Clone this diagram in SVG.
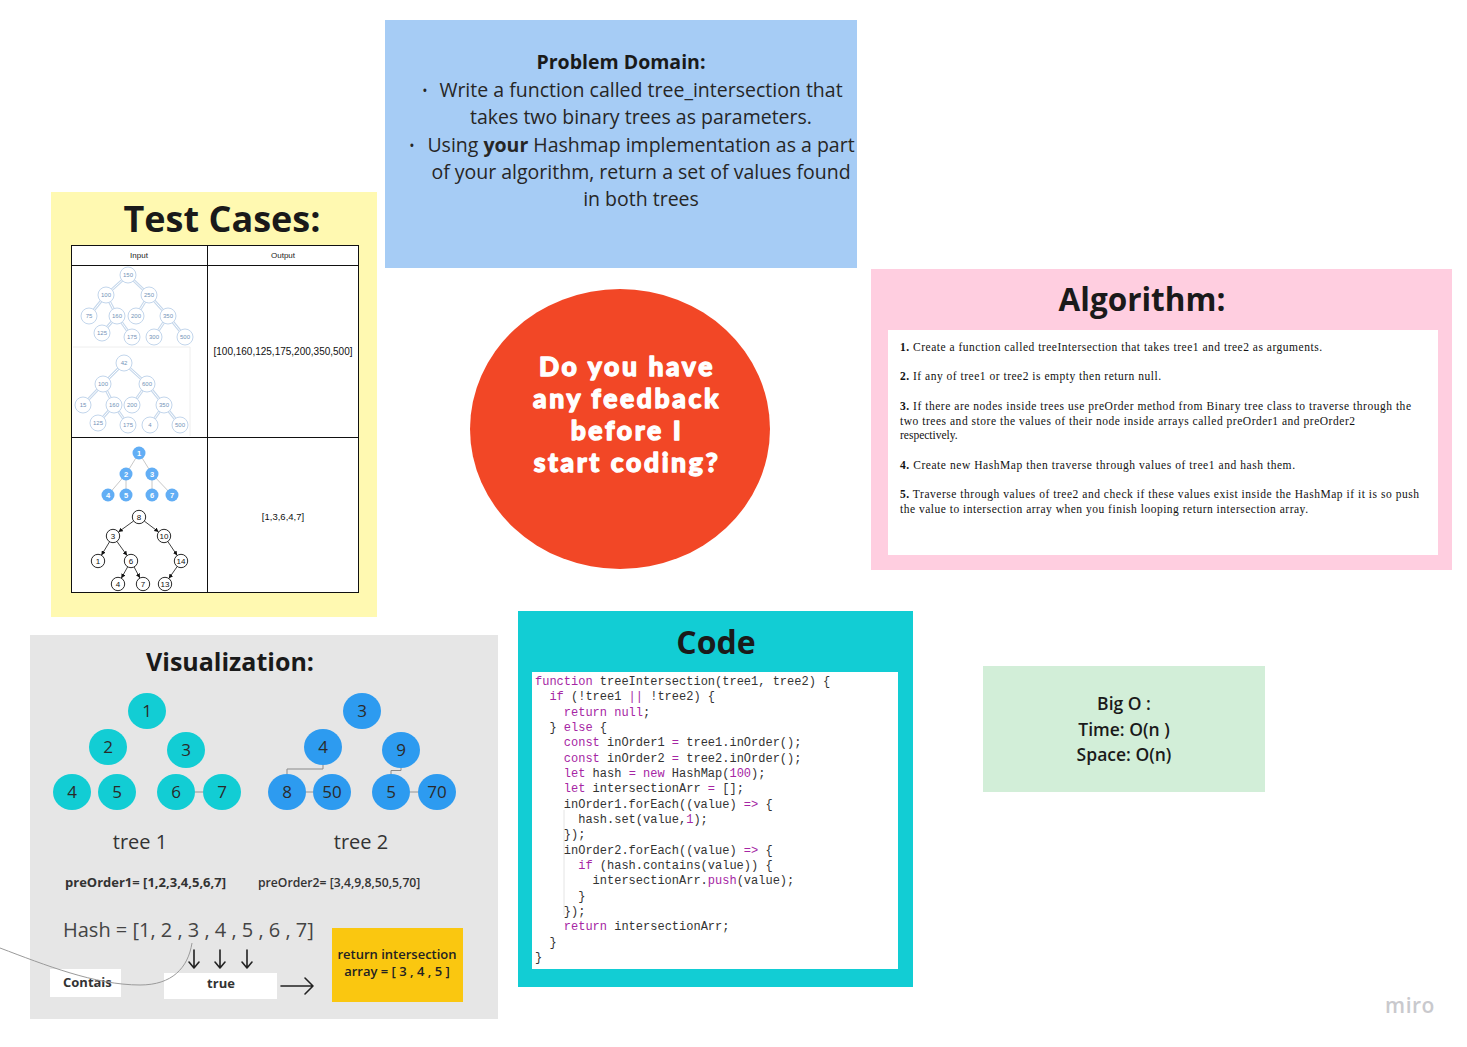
<svg xmlns="http://www.w3.org/2000/svg" width="1467" height="1047" viewBox="0 0 1467 1047">
<defs>
<style>
.os{font-family:"Open Sans","Noto Sans","DejaVu Sans",sans-serif}
.ttl{font-family:"Open Sans","Noto Sans",sans-serif;font-weight:700;fill:#1a1a1a;text-anchor:middle}
.pd{font-family:"Open Sans","Noto Sans",sans-serif;font-size:19.5px;fill:#262626;text-anchor:middle}
.alg{font-family:"Liberation Serif","Times New Roman",serif;font-size:11.5px;fill:#111}
.code{font-family:"Liberation Mono","DejaVu Sans Mono",monospace;font-size:12px;fill:#333;white-space:pre}
.k{fill:#a626a4}
.n1{fill:#12cdd4}
.n2{fill:#2d9bf0}
.nl{font-family:"Open Sans","Noto Sans",sans-serif;font-size:17px;fill:#2a2a2a;text-anchor:middle}
.tc{fill:#fff;stroke:#c3d6ec;stroke-width:1}
.tct{font-family:"Liberation Sans",Arial,sans-serif;font-size:6px;fill:#7393b8;text-anchor:middle}
.e1{stroke:#c6d8ec;stroke-width:3;fill:none}
.e1i{stroke:#fff;stroke-width:1;fill:none}
.bn{fill:#62aef5}
.bnt{font-family:"Liberation Sans",Arial,sans-serif;font-size:7.5px;font-weight:700;fill:#fff;text-anchor:middle}
.kn{fill:#fff;stroke:#111;stroke-width:0.9}
.knt{font-family:"Liberation Sans",Arial,sans-serif;font-size:8px;fill:#111;text-anchor:middle}
.ka{stroke:#111;stroke-width:0.8;fill:none;marker-end:url(#ah)}
.arr{stroke:#222;stroke-width:1.6;fill:none;stroke-linecap:round;stroke-linejoin:round}
</style>
<marker id="ah" viewBox="0 0 6 6" refX="6" refY="3" markerWidth="4.5" markerHeight="4.5" markerUnits="userSpaceOnUse" orient="auto"><path d="M0,0 L6,3 L0,6 z" fill="#111"/></marker>
</defs>
<rect width="1467" height="1047" fill="#fff"/>

<!-- Test Cases -->
<g id="test-cases">
<rect x="51" y="192" width="326" height="425" fill="#fff9b1"/>
<text class="ttl" x="222" y="232" font-size="36">Test Cases:</text>
<rect x="71.5" y="245.5" width="287" height="347" fill="#fff" stroke="#111" stroke-width="1"/>
<line x1="71.5" y1="265.5" x2="358.5" y2="265.5" stroke="#111"/>
<line x1="207.5" y1="245.5" x2="207.5" y2="592.5" stroke="#111"/>
<line x1="71.5" y1="437.5" x2="358.5" y2="437.5" stroke="#111"/>
<text x="139" y="258" font-family="Liberation Sans,Arial,sans-serif" font-size="8" fill="#222" text-anchor="middle">Input</text>
<text x="283" y="258" font-family="Liberation Sans,Arial,sans-serif" font-size="8" fill="#222" text-anchor="middle">Output</text>
<text x="283" y="355" font-family="Liberation Sans,Arial,sans-serif" font-size="10" fill="#111" text-anchor="middle">[100,160,125,175,200,350,500]</text>
<text x="283" y="520" font-family="Liberation Sans,Arial,sans-serif" font-size="9.5" fill="#111" text-anchor="middle">[1,3,6,4,7]</text>
<line x1="73" y1="347" x2="190" y2="347" stroke="#eee" stroke-width="1"/>
<line x1="190" y1="347" x2="190" y2="436" stroke="#eee" stroke-width="1"/>
<g id="tc-tree-a">
<path class="e1" d="M128,275 L106,295 M128,275 L149,295 M106,295 L89,316 M106,295 L117,316 M149,295 L136,316 M149,295 L168,316 M117,316 L102,333 M117,316 L132,337 M168,316 L154,337 M168,316 L185,337"/>
<path class="e1i" d="M128,275 L106,295 M128,275 L149,295 M106,295 L89,316 M106,295 L117,316 M149,295 L136,316 M149,295 L168,316 M117,316 L102,333 M117,316 L132,337 M168,316 L154,337 M168,316 L185,337"/>
<circle class="tc" cx="128" cy="275" r="8"/><text class="tct" x="128" y="277">150</text>
<circle class="tc" cx="106" cy="295" r="8"/><text class="tct" x="106" y="297">100</text>
<circle class="tc" cx="149" cy="295" r="8"/><text class="tct" x="149" y="297">250</text>
<circle class="tc" cx="89" cy="316" r="8"/><text class="tct" x="89" y="318">75</text>
<circle class="tc" cx="117" cy="316" r="8"/><text class="tct" x="117" y="318">160</text>
<circle class="tc" cx="136" cy="316" r="8"/><text class="tct" x="136" y="318">200</text>
<circle class="tc" cx="168" cy="316" r="8"/><text class="tct" x="168" y="318">350</text>
<circle class="tc" cx="102" cy="333" r="8"/><text class="tct" x="102" y="335">125</text>
<circle class="tc" cx="132" cy="337" r="8"/><text class="tct" x="132" y="339">175</text>
<circle class="tc" cx="154" cy="337" r="8"/><text class="tct" x="154" y="339">300</text>
<circle class="tc" cx="185" cy="337" r="8"/><text class="tct" x="185" y="339">500</text>
</g>
<g id="tc-tree-b">
<path class="e1" d="M124,363 L103,384 M124,363 L147,384 M103,384 L83,405 M103,384 L114,405 M147,384 L132,405 M147,384 L164,405 M114,405 L98,423 M114,405 L128,425 M164,405 L150,425 M164,405 L180,425"/>
<path class="e1i" d="M124,363 L103,384 M124,363 L147,384 M103,384 L83,405 M103,384 L114,405 M147,384 L132,405 M147,384 L164,405 M114,405 L98,423 M114,405 L128,425 M164,405 L150,425 M164,405 L180,425"/>
<circle class="tc" cx="124" cy="363" r="8"/><text class="tct" x="124" y="365">42</text>
<circle class="tc" cx="103" cy="384" r="8"/><text class="tct" x="103" y="386">100</text>
<circle class="tc" cx="147" cy="384" r="8"/><text class="tct" x="147" y="386">600</text>
<circle class="tc" cx="83" cy="405" r="8"/><text class="tct" x="83" y="407">15</text>
<circle class="tc" cx="114" cy="405" r="8"/><text class="tct" x="114" y="407">160</text>
<circle class="tc" cx="132" cy="405" r="8"/><text class="tct" x="132" y="407">200</text>
<circle class="tc" cx="164" cy="405" r="8"/><text class="tct" x="164" y="407">350</text>
<circle class="tc" cx="98" cy="423" r="8"/><text class="tct" x="98" y="425">125</text>
<circle class="tc" cx="128" cy="425" r="8"/><text class="tct" x="128" y="427">175</text>
<circle class="tc" cx="150" cy="425" r="8"/><text class="tct" x="150" y="427">4</text>
<circle class="tc" cx="180" cy="425" r="8"/><text class="tct" x="180" y="427">500</text>
</g>
<g id="tc-tree-c">
<path d="M139,453 L126,474 M139,453 L152,474 M126,474 L108,495 M126,474 L126,495 M152,474 L152,495 M152,474 L172,495" stroke="#c8c8c8" stroke-width="1" fill="none"/>
<circle class="bn" cx="139" cy="453" r="6.5"/><text class="bnt" x="139" y="455.7">1</text>
<circle class="bn" cx="126" cy="474" r="6.5"/><text class="bnt" x="126" y="476.7">2</text>
<circle class="bn" cx="152" cy="474" r="6.5"/><text class="bnt" x="152" y="476.7">3</text>
<circle class="bn" cx="108" cy="495" r="6.5"/><text class="bnt" x="108" y="497.7">4</text>
<circle class="bn" cx="126" cy="495" r="6.5"/><text class="bnt" x="126" y="497.7">5</text>
<circle class="bn" cx="152" cy="495" r="6.5"/><text class="bnt" x="152" y="497.7">6</text>
<circle class="bn" cx="172" cy="495" r="6.5"/><text class="bnt" x="172" y="497.7">7</text>
</g>
<g id="tc-tree-d">
<line class="ka" x1="133.6" y1="521" x2="118.4" y2="532"/>
<line class="ka" x1="144.3" y1="521.1" x2="158.7" y2="532"/>
<line class="ka" x1="109.6" y1="541.7" x2="101.4" y2="555.3"/>
<line class="ka" x1="116.9" y1="541.4" x2="127.1" y2="555.6"/>
<line class="ka" x1="167.8" y1="541.5" x2="177.2" y2="555.5"/>
<line class="ka" x1="127.7" y1="566.8" x2="121.3" y2="578.2"/>
<line class="ka" x1="134.1" y1="567" x2="139.9" y2="578"/>
<line class="ka" x1="177.2" y1="566.5" x2="168.8" y2="578.5"/>
<circle class="kn" cx="139" cy="517" r="6.7"/><text class="knt" x="139" y="520">8</text>
<circle class="kn" cx="113" cy="536" r="6.7"/><text class="knt" x="113" y="539">3</text>
<circle class="kn" cx="164" cy="536" r="6.7"/><text class="knt" x="164" y="539">10</text>
<circle class="kn" cx="98" cy="561" r="6.7"/><text class="knt" x="98" y="564">1</text>
<circle class="kn" cx="131" cy="561" r="6.7"/><text class="knt" x="131" y="564">6</text>
<circle class="kn" cx="181" cy="561" r="6.7"/><text class="knt" x="181" y="564">14</text>
<circle class="kn" cx="118" cy="584" r="6.7"/><text class="knt" x="118" y="587">4</text>
<circle class="kn" cx="143" cy="584" r="6.7"/><text class="knt" x="143" y="587">7</text>
<circle class="kn" cx="165" cy="584" r="6.7"/><text class="knt" x="165" y="587">13</text>
</g>
</g>

<!-- Problem Domain -->
<g id="problem-domain">
<rect x="385" y="20" width="472" height="248" fill="#a6ccf5"/>
<text class="ttl" x="621" y="69" font-size="19.5">Problem Domain:</text>
<text class="os" x="425" y="96" font-size="14" fill="#262626" text-anchor="middle">•</text>
<text class="pd" x="641" y="97">Write a function called tree_intersection that</text>
<text class="pd" x="641" y="124">takes two binary trees as parameters.</text>
<text class="os" x="412" y="151" font-size="14" fill="#262626" text-anchor="middle">•</text>
<text class="pd" x="641" y="152">Using <tspan font-weight="700">your</tspan> Hashmap implementation as a part</text>
<text class="pd" x="641" y="179">of your algorithm, return a set of values found</text>
<text class="pd" x="641" y="206">in both trees</text>
</g>

<!-- Feedback -->
<g id="feedback">
<ellipse cx="620" cy="429" rx="150" ry="140" fill="#f24726"/>
<g font-family="Lato,'Open Sans',sans-serif" font-weight="900" font-size="26.5" fill="#fff" stroke="#fff" stroke-width="1.3" stroke-linejoin="round" text-anchor="middle" letter-spacing="2.6">
<text x="627" y="376">Do you have</text>
<text x="627" y="408">any feedback</text>
<text x="627" y="440">before I</text>
<text x="627" y="472">start coding?</text>
</g>
</g>

<!-- Algorithm -->
<g id="algorithm">
<rect x="871" y="269" width="581" height="301" fill="#ffcee0"/>
<text class="ttl" x="1142" y="311" font-size="31.5">Algorithm:</text>
<rect x="888" y="330" width="550" height="225" fill="#fff"/>
<text class="alg" x="900" y="351" textLength="422" lengthAdjust="spacing"><tspan font-weight="700">1.</tspan> Create a function called treeIntersection that takes tree1 and tree2 as arguments.</text>
<text class="alg" x="900" y="380" textLength="261" lengthAdjust="spacing"><tspan font-weight="700">2.</tspan> If any of tree1 or tree2 is empty then return null.</text>
<text class="alg" x="900" y="410" textLength="511" lengthAdjust="spacing"><tspan font-weight="700">3.</tspan> If there are nodes inside trees use preOrder method from Binary tree class to traverse through the</text>
<text class="alg" x="900" y="425" textLength="455" lengthAdjust="spacing">two trees and store the values of their node inside arrays called preOrder1 and preOrder2</text>
<text class="alg" x="900" y="439">respectively.</text>
<text class="alg" x="900" y="469" textLength="395" lengthAdjust="spacing"><tspan font-weight="700">4.</tspan> Create new HashMap then traverse through values of tree1 and hash them.</text>
<text class="alg" x="900" y="498" textLength="519" lengthAdjust="spacing"><tspan font-weight="700">5.</tspan> Traverse through values of tree2 and check if these values exist inside the HashMap if it is so push</text>
<text class="alg" x="900" y="513" textLength="408" lengthAdjust="spacing">the value to intersection array when you finish looping return intersection array.</text>
</g>

<!-- Visualization -->
<g id="visualization">
<rect x="30" y="635" width="468" height="384" fill="#e6e6e6"/>
<text class="ttl" x="230" y="671" font-size="25">Visualization:</text>
<g id="t1-n1"><ellipse class="n1" cx="147" cy="711" rx="19" ry="18"/><text class="nl" x="147" y="717">1</text></g>
<g id="t1-n2"><ellipse class="n1" cx="108" cy="747" rx="19" ry="18"/><text class="nl" x="108" y="753">2</text></g>
<g id="t1-n3"><ellipse class="n1" cx="186" cy="750" rx="19" ry="18"/><text class="nl" x="186" y="756">3</text></g>
<g id="t1-n4"><ellipse class="n1" cx="72" cy="792" rx="19" ry="18"/><text class="nl" x="72" y="798">4</text></g>
<g id="t1-n5"><ellipse class="n1" cx="117" cy="792" rx="19" ry="18"/><text class="nl" x="117" y="798">5</text></g>
<g id="t1-n6"><ellipse class="n1" cx="176" cy="792" rx="19" ry="18"/><text class="nl" x="176" y="798">6</text></g>
<g id="t1-n7"><ellipse class="n1" cx="222" cy="792" rx="19" ry="18"/><text class="nl" x="222" y="798">7</text></g>
<g id="t2-n3"><ellipse class="n2" cx="362" cy="711" rx="19" ry="18"/><text class="nl" x="362" y="717">3</text></g>
<g id="t2-n4"><ellipse class="n2" cx="323" cy="747" rx="19" ry="18"/><text class="nl" x="323" y="753">4</text></g>
<g id="t2-n9"><ellipse class="n2" cx="401" cy="750" rx="19" ry="18"/><text class="nl" x="401" y="756">9</text></g>
<g id="t2-n8"><ellipse class="n2" cx="287" cy="792" rx="19" ry="18"/><text class="nl" x="287" y="798">8</text></g>
<g id="t2-n50"><ellipse class="n2" cx="332" cy="792" rx="19" ry="18"/><text class="nl" x="332" y="798">50</text></g>
<g id="t2-n5"><ellipse class="n2" cx="391" cy="792" rx="19" ry="18"/><text class="nl" x="391" y="798">5</text></g>
<g id="t2-n70"><ellipse class="n2" cx="437" cy="792" rx="19" ry="18"/><text class="nl" x="437" y="798">70</text></g>
<text class="os" x="140" y="849" font-size="20" fill="#333" text-anchor="middle">tree 1</text>
<text class="os" x="361" y="849" font-size="20" fill="#333" text-anchor="middle">tree 2</text>
<text class="os" x="65" y="887" font-size="13" font-weight="700" fill="#333">preOrder1= [1,2,3,4,5,6,7]</text>
<text class="os" x="258" y="887" font-size="12.2" font-weight="600" fill="#333">preOrder2= [3,4,9,8,50,5,70]</text>
<text class="os" x="63" y="937" font-size="20" fill="#444">Hash = [1, 2 , 3 , 4 , 5 , 6 , 7]</text>
<g id="contais"><rect x="50" y="969" width="71" height="28" fill="#fff"/><text class="os" x="63" y="987" font-size="13" font-weight="700" fill="#333">Contais</text></g>
<g id="true"><rect x="164" y="973" width="113" height="26" fill="#fff"/><text class="os" x="221" y="988" font-size="13" font-weight="700" fill="#333" text-anchor="middle">true</text></g>
<g id="return-box"><rect x="332" y="928" width="131" height="74" fill="#fac710"/>
<text class="os" x="397" y="959" font-size="13" font-weight="600" fill="#222" text-anchor="middle">return intersection</text>
<text class="os" x="397" y="976" font-size="13" font-weight="600" fill="#222" text-anchor="middle">array = [ 3 , 4 , 5 ]</text></g>
</g>

<!-- Code -->
<g id="code">
<rect x="518" y="611" width="395" height="376" fill="#12cdd4"/>
<text class="ttl" x="716" y="654" font-size="32">Code</text>
<rect x="532" y="672" width="366" height="297" fill="#fff"/>
<line x1="564" y1="810" x2="564" y2="915" stroke="#e4e4e4" stroke-width="1"/>
<text class="code" xml:space="preserve" x="535" y="685"><tspan class="k">function</tspan> treeIntersection(tree1, tree2) {</text>
<text class="code" xml:space="preserve" x="549.4" y="700.3"><tspan class="k">if</tspan> (!tree1 <tspan class="k">||</tspan> !tree2) {</text>
<text class="code" xml:space="preserve" x="563.8" y="715.7"><tspan class="k">return</tspan> <tspan class="k">null</tspan>;</text>
<text class="code" xml:space="preserve" x="549.4" y="731">} <tspan class="k">else</tspan> {</text>
<text class="code" xml:space="preserve" x="563.8" y="746.3"><tspan class="k">const</tspan> inOrder1 <tspan class="k">=</tspan> tree1.inOrder();</text>
<text class="code" xml:space="preserve" x="563.8" y="761.7"><tspan class="k">const</tspan> inOrder2 <tspan class="k">=</tspan> tree2.inOrder();</text>
<text class="code" xml:space="preserve" x="563.8" y="777"><tspan class="k">let</tspan> hash <tspan class="k">=</tspan> <tspan class="k">new</tspan> HashMap(<tspan class="k">100</tspan>);</text>
<text class="code" xml:space="preserve" x="563.8" y="792.3"><tspan class="k">let</tspan> intersectionArr <tspan class="k">=</tspan> [];</text>
<text class="code" xml:space="preserve" x="563.8" y="807.7">inOrder1.forEach((value) <tspan class="k">=&gt;</tspan> {</text>
<text class="code" xml:space="preserve" x="578.2" y="823">hash.set(value,<tspan class="k">1</tspan>);</text>
<text class="code" xml:space="preserve" x="563.8" y="838.3">});</text>
<text class="code" xml:space="preserve" x="563.8" y="853.7">inOrder2.forEach((value) <tspan class="k">=&gt;</tspan> {</text>
<text class="code" xml:space="preserve" x="578.2" y="869"><tspan class="k">if</tspan> (hash.contains(value)) {</text>
<text class="code" xml:space="preserve" x="592.6" y="884.3">intersectionArr.<tspan class="k">push</tspan>(value);</text>
<text class="code" xml:space="preserve" x="578.2" y="899.7">}</text>
<text class="code" xml:space="preserve" x="563.8" y="915">});</text>
<text class="code" xml:space="preserve" x="563.8" y="930.3"><tspan class="k">return</tspan> intersectionArr;</text>
<text class="code" xml:space="preserve" x="549.4" y="945.7">}</text>
<text class="code" xml:space="preserve" x="535" y="961">}</text>
</g>

<!-- Big O -->
<g id="big-o">
<rect x="983" y="666" width="282" height="126" fill="#d2eed8"/>
<g font-family="'Open Sans','Noto Sans',sans-serif" font-weight="600" font-size="17.5" fill="#1a1a1a" text-anchor="middle">
<text x="1124" y="710">Big O :</text>
<text x="1124" y="736">Time: O(n )</text>
<text x="1124" y="761">Space: O(n)</text>
</g>
</g>

<!-- Connectors -->
<g id="connectors">
<path d="M195,792 H203 M306,792 H313 M410,792 H418" stroke="#bdbdbd" stroke-width="2" fill="none"/>
<path d="M323,765 V769 H287 V774 M401,768 V770.5 H391 V774" stroke="#8a8a8a" stroke-width="1" fill="none"/>
<path d="M0,948 C45,965 95,985 140,985 C172,985 188,968 192,943" stroke="#9a9a9a" stroke-width="1" fill="none"/>
<path class="arr" d="M194,950 V968 M189,962 L194,968 L199,962"/>
<path class="arr" d="M220,950 V968 M215,962 L220,968 L225,962"/>
<path class="arr" d="M247,950 V968 M242,962 L247,968 L252,962"/>
<path class="arr" stroke-width="2.2" d="M281,986 H313 M305,978 L313,986 L305,994"/>
</g>

<text x="1410" y="1013" font-family="'Open Sans','Noto Sans',sans-serif" font-weight="600" font-size="21" fill="#c9c9cd" text-anchor="middle" letter-spacing="0.5">miro</text>
</svg>
